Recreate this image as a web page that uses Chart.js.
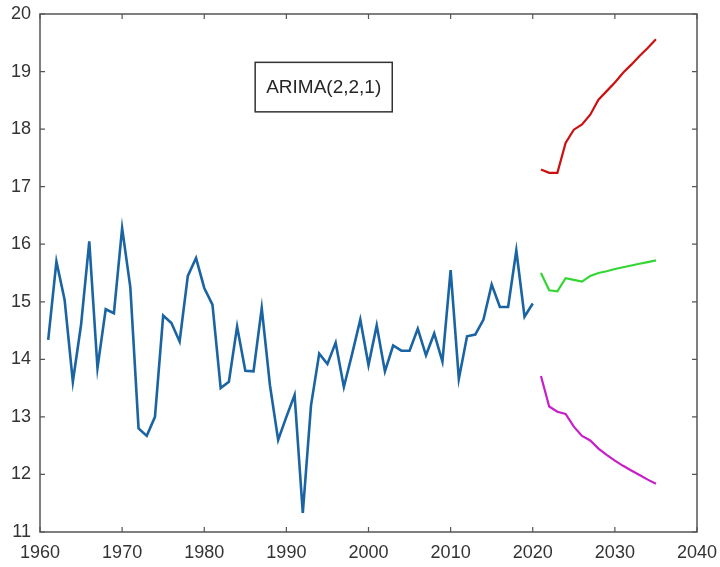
<!DOCTYPE html>
<html>
<head>
<meta charset="utf-8">
<script src="https://cdn.jsdelivr.net/npm/chart.js@4"></script>
<style>
  html, body { margin: 0; padding: 0; background: #fff; }
  #wrap { width: 720px; height: 567px; }
</style>
</head>
<body>
<div id="wrap"><canvas id="chart"></canvas></div>
<script>
// observed series 1961-2020
const histYears = [];
for (let y = 1961; y <= 2020; y++) histYears.push(y);
const histValues = [
  14.34, 15.70, 15.03, 13.61, 14.60, 16.05, 13.85, 14.87, 14.80, 16.28,
  15.25, 12.80, 12.67, 13.00, 14.76, 14.63, 14.31, 15.45, 15.76, 15.24,
  14.95, 13.50, 13.61, 14.57, 13.80, 13.79, 14.89, 13.55, 12.60, 13.00,
  13.38, 11.33, 13.20, 14.10, 13.92, 14.29, 13.52, 14.09, 14.69, 13.90,
  14.59, 13.79, 14.24, 14.15, 14.15, 14.53, 14.07, 14.45, 13.96, 15.55,
  13.66, 14.40, 14.43, 14.69, 15.30, 14.91, 14.91, 15.89, 14.74, 14.97
];

// forecast 2021-2035
const fcYears = [];
for (let y = 2021; y <= 2035; y++) fcYears.push(y);
const upperValues = [17.30, 17.24, 17.24, 17.76, 17.99, 18.08, 18.25, 18.51, 18.66, 18.81, 18.98, 19.12, 19.27, 19.41, 19.56];
const meanValues  = [15.50, 15.20, 15.18, 15.41, 15.38, 15.35, 15.45, 15.50, 15.53, 15.57, 15.60, 15.63, 15.66, 15.69, 15.72];
const lowerValues = [13.71, 13.18, 13.09, 13.05, 12.83, 12.67, 12.59, 12.45, 12.34, 12.24, 12.15, 12.07, 11.99, 11.91, 11.84];

const xTicks = [1960, 1970, 1980, 1990, 2000, 2010, 2020, 2030, 2040];
const yTicks = [11, 12, 13, 14, 15, 16, 17, 18, 19, 20];
const modelLabel = "ARIMA(2,2,1)";

const toPoints = (xs, ys) => xs.map((x, i) => ({ x: x, y: ys[i] }));

const FONT = "'Liberation Sans', Arial, sans-serif";

// box frame with inward ticks, like matlab axes
const framePlugin = {
  id: "frame",
  afterDatasetsDraw(chart) {
    const ctx = chart.ctx;
    const a = chart.chartArea;
    const xs = chart.scales.x;
    const ys = chart.scales.y;
    ctx.save();
    ctx.strokeStyle = "#555";
    ctx.lineWidth = 1.5;
    ctx.strokeRect(a.left, a.top, a.right - a.left, a.bottom - a.top);
    ctx.lineWidth = 1.2;
    ctx.beginPath();
    xTicks.forEach((t) => {
      const px = xs.getPixelForValue(t);
      ctx.moveTo(px, a.bottom);
      ctx.lineTo(px, a.bottom - 5);
      ctx.moveTo(px, a.top);
      ctx.lineTo(px, a.top + 5);
    });
    yTicks.forEach((t) => {
      const py = ys.getPixelForValue(t);
      ctx.moveTo(a.left, py);
      ctx.lineTo(a.left + 5, py);
      ctx.moveTo(a.right, py);
      ctx.lineTo(a.right - 5, py);
    });
    ctx.stroke();

    // model label box
    ctx.font = "19px " + FONT;
    const tw = ctx.measureText(modelLabel).width;
    const x0 = xs.getPixelForValue(1986.2);
    const x1 = x0 + tw + 22;
    const y0 = ys.getPixelForValue(19.16);
    const y1 = ys.getPixelForValue(18.3);
    ctx.fillStyle = "#fff";
    ctx.fillRect(x0, y0, x1 - x0, y1 - y0);
    ctx.strokeStyle = "#333";
    ctx.lineWidth = 1.5;
    ctx.strokeRect(x0, y0, x1 - x0, y1 - y0);
    ctx.fillStyle = "#262626";
    ctx.textAlign = "center";
    ctx.textBaseline = "middle";
    ctx.fillText(modelLabel, (x0 + x1) / 2, (y0 + y1) / 2 + 1);
    ctx.restore();
  },
};

const lineSet = (data, color, width) => ({
  data: data,
  borderColor: color,
  backgroundColor: color,
  borderWidth: width,
  pointRadius: 0,
  tension: 0,
  fill: false,
});

new Chart(document.getElementById("chart"), {
  type: "line",
  data: {
    datasets: [
      lineSet(toPoints(histYears, histValues), "#1a64a3", 2.6),
      lineSet(toPoints(fcYears, upperValues), "#cc1010", 2.2),
      lineSet(toPoints(fcYears, meanValues), "#33d633", 2.2),
      lineSet(toPoints(fcYears, lowerValues), "#c81ec8", 2.2),
    ],
  },
  options: {
    responsive: true,
    maintainAspectRatio: false,
    animation: { duration: 0 },
    layout: { padding: { top: 14, right: 23, left: 0, bottom: 0 } },
    plugins: {
      legend: { display: false },
      tooltip: { enabled: false },
    },
    scales: {
      x: {
        type: "linear",
        min: 1960,
        max: 2040,
        afterBuildTicks: (s) => { s.ticks = xTicks.map((v) => ({ value: v })); },
        grid: { display: false, drawTicks: false },
        border: { display: false },
        ticks: {
          padding: 10,
          color: "#333",
          font: { family: FONT, size: 18 },
          callback: (v) => String(v),
        },
        afterFit: (s) => {
          s.height = 35;
          s.paddingLeft = 0;
          s.paddingRight = 0;
        },
      },
      y: {
        min: 11,
        max: 20,
        afterBuildTicks: (s) => { s.ticks = yTicks.map((v) => ({ value: v })); },
        grid: { display: false, drawTicks: false },
        border: { display: false },
        ticks: {
          padding: 9,
          color: "#333",
          font: { family: FONT, size: 18 },
        },
        afterFit: (s) => {
          s.width = 40;
          s.paddingTop = 0;
          s.paddingBottom = 0;
        },
      },
    },
  },
  plugins: [framePlugin],
});
</script>
</body>
</html>
